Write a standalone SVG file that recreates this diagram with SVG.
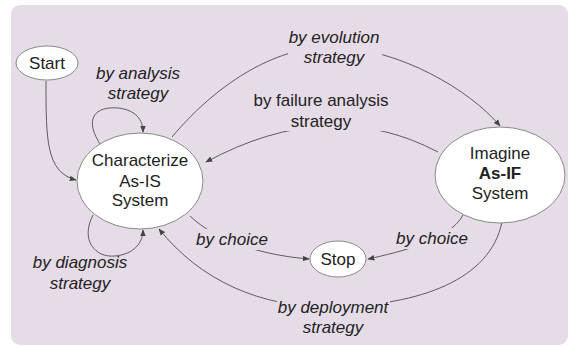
<svg xmlns="http://www.w3.org/2000/svg" width="569" height="347" viewBox="0 0 569 347">
<defs>
<style>
.bg{fill:#e6dce8}
.node ellipse{fill:#ffffff;stroke:#888888;stroke-width:1}
.t{font-family:"Liberation Sans",Arial,sans-serif;font-size:17px;fill:#222222;text-anchor:middle}
.i{font-style:italic}
.b{font-weight:bold}
.edge{fill:none;stroke:#5c5c5c;stroke-width:1;marker-end:url(#arr)}
.lbg{fill:#e6dce8}
</style>
<marker id="arr" viewBox="0 0 10 10" refX="9" refY="5" markerWidth="7" markerHeight="7" orient="auto" markerUnits="userSpaceOnUse">
<path d="M0,1 L10,5 L0,9 z" fill="#444444"/>
</marker>
</defs>
<rect x="0" y="0" width="569" height="347" fill="#ffffff"/>
<rect class="bg" x="11" y="5" width="557" height="340" rx="9" ry="9"/>

<g id="connectors">
<path class="edge" d="M46,81 C46,140 46,172 76,180"/>
<path class="edge" d="M102,147 C82,118 96,106 118,108 C136,110 143,120 143,132"/>
<path class="edge" d="M93,215 C80,240 95,258 115,256 C135,254 143,242 143,230"/>
<path class="edge" d="M172,137 C220,80 280,45 335,47 C400,49 470,90 500,126"/>
<path class="edge" d="M438,152 Q330,95 206,162"/>
<path class="edge" d="M190,216 C215,240 260,255 309,259"/>
<path class="edge" d="M463,215 C450,240 400,252 368,259"/>
<path class="edge" d="M502,222 C490,280 420,305 333,307 C260,308 200,280 159,229"/>
</g>

<g id="labels">
<rect class="lbg" x="288" y="27" width="94" height="40"/>
<text class="t i" x="334" y="43">by evolution</text>
<text class="t i" x="334" y="63">strategy</text>
<rect class="lbg" x="253" y="90" width="136" height="41"/>
<text class="t" x="321" y="106">by failure analysis</text>
<text class="t" x="321" y="127">strategy</text>
<text class="t i" x="138" y="79">by analysis</text>
<text class="t i" x="138" y="99">strategy</text>
<text class="t i" x="80" y="268">by diagnosis</text>
<text class="t i" x="80" y="289">strategy</text>
<rect class="lbg" x="197" y="229" width="71" height="21"/>
<text class="t i" x="232" y="245">by choice</text>
<rect class="lbg" x="397" y="228" width="72" height="21"/>
<text class="t i" x="432" y="244">by choice</text>
<rect class="lbg" x="277" y="298" width="113" height="39"/>
<text class="t i" x="333" y="313">by deployment</text>
<text class="t i" x="333" y="333">strategy</text>
</g>

<g id="start" class="node">
<ellipse cx="47" cy="63" rx="31" ry="17"/>
<text class="t" x="47" y="69">Start</text>
</g>
<g id="characterize" class="node">
<ellipse cx="140" cy="181" rx="63" ry="48"/>
<text class="t" x="140" y="166">Characterize</text>
<text class="t" x="140" y="187">As-IS</text>
<text class="t" x="140" y="206">System</text>
</g>
<g id="imagine" class="node">
<ellipse cx="500" cy="175" rx="65" ry="48"/>
<text class="t" x="500" y="159">Imagine</text>
<text class="t b" x="500" y="179">As-IF</text>
<text class="t" x="500" y="199">System</text>
</g>
<g id="stop" class="node">
<ellipse cx="338" cy="259" rx="28" ry="18"/>
<text class="t" x="338" y="265">Stop</text>
</g>
</svg>
